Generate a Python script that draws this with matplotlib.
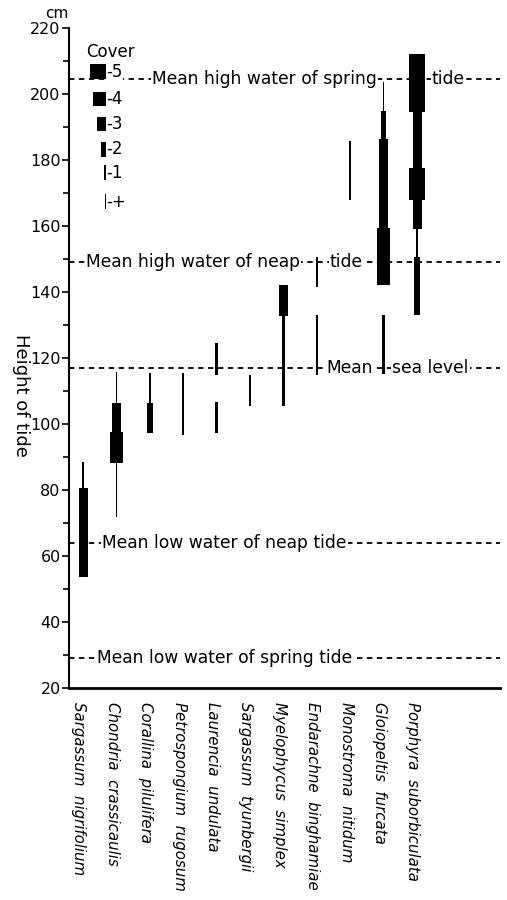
import matplotlib
matplotlib.use("Agg")
import matplotlib.pyplot as plt

# species along the shore, low to high
species = ["Sargassum  nigrifolium", "Chondria  crassicaulis", "Corallina  pilulifera",
           "Petrospongium  rugosum", "Laurencia  undulata", "Sargassum  tyunbergii",
           "Myelophycus  simplex", "Endarachne  binghamiae", "Monostroma  nitidum",
           "Gloiopeltis  furcata", "Porphyra  suborbiculata"]

# vertical segments: species index, top (cm), bottom (cm), cover class
seg_species = [0, 0,
               1, 1, 1, 1,
               2, 2,
               3,
               4, 4,
               5,
               6, 6,
               7, 7,
               8,
               9, 9, 9, 9, 9,
               10, 10, 10, 10, 10, 10]
seg_top = [88.5, 80.6,
           115.8, 106.4, 97.6, 88.2,
           115.5, 106.4,
           115.5,
           124.5, 106.7,
           114.8,
           142.1, 132.7,
           150.5, 133.0,
           185.8,
           203.5, 195.0, 186.5, 159.5, 133.0,
           212.1, 194.5, 177.6, 168.0, 159.0, 150.6]
seg_bottom = [80.6, 53.6,
              106.4, 97.6, 88.2, 71.8,
              106.4, 97.3,
              96.7,
              114.8, 97.3,
              105.5,
              132.7, 105.5,
              141.5, 115.0,
              167.9,
              195.0, 186.5, 159.5, 142.0, 115.2,
              194.5, 177.6, 168.0, 159.0, 150.6, 133.0]
seg_cover = ["+", 3,
             "+", 3, 4, "+",
             1, 2,
             1,
             1, 1,
             1,
             3, 1,
             1, 1,
             1,
             "+", 2, 3, 4, 1,
             5, 3, 5, 3, "+", 2]

# tide levels (cm)
tide_levels = [204.5, 149.0, 117.0, 64.0, 29.0]

cover_classes = [5, 4, 3, 2, 1, "+"]
cover_px = {5: 16.5, 4: 13, 3: 9, 2: 5.5, 1: 2.5, "+": 1.3}

px_per_unit = 33.4
def width(c):
    return cover_px[c] / px_per_unit

fig = plt.figure(figsize=(5.07, 9.0), dpi=100)
ax = fig.add_axes([69/507, 1-688/900, (500-69)/507, (688-28)/900])

xpos = list(range(1, len(species)+1))

# bars
for i, t, b, c in zip(seg_species, seg_top, seg_bottom, seg_cover):
    ax.bar(xpos[i], t-b, bottom=b, width=width(c), color="black", zorder=3, linewidth=0)

# dashed tide lines
for lv in tide_levels:
    ax.axhline(lv, color="black", lw=1.3, ls=(0, (3, 2.5)), zorder=1)

tkw = dict(fontsize=12.3, va="center", ha="left", zorder=2,
           bbox=dict(facecolor="white", edgecolor="none", pad=1.0))
def dx(px):
    return (px - 49.6) / px_per_unit

ax.text(dx(152), tide_levels[0], "Mean high water of spring", **tkw)
ax.text(dx(432), tide_levels[0], "tide", **tkw)
ax.text(dx(86), tide_levels[1], "Mean high water of neap", **tkw)
ax.text(dx(330), tide_levels[1], "tide", **tkw)
ax.text(dx(326), tide_levels[2], "Mean", **tkw)
ax.text(dx(392), tide_levels[2], "sea level", **tkw)
ax.text(dx(102), tide_levels[3], "Mean low water of neap tide", **tkw)
ax.text(dx(97), tide_levels[4], "Mean low water of spring tide", **tkw)

# cover legend
leg_right = dx(106)
leg_y = [206.7, 198.5, 190.9, 183.3, 176.1, 167.3]
ax.text(dx(86), 212.6, "Cover", fontsize=12, va="center", ha="left", zorder=4,
        bbox=dict(facecolor="white", edgecolor="none", pad=0.5))
for c, y in zip(cover_classes, leg_y):
    w = width(c)
    ax.bar(leg_right - w/2, 4.5, bottom=y-2.25, width=w, color="black", zorder=4, linewidth=0)
    ax.text(leg_right, y, "-" + str(c), fontsize=12, va="center", ha="left", zorder=4,
            bbox=dict(facecolor="white", edgecolor="none", pad=0.3))

ax.set_xlim(dx(69), dx(500))
ax.set_ylim(20, 220)
ax.set_yticks(range(20, 221, 20))
ax.set_yticks(range(30, 220, 20), minor=True)
ax.tick_params(axis="y", which="major", length=5, width=1.2, labelsize=11.5, pad=1)
ax.tick_params(axis="y", which="minor", length=4, width=1.2)
ax.set_xticks([p - 0.12 for p in xpos])
ax.set_xticklabels(species, rotation=-90, fontsize=10.8, style="italic", va="top", ha="center")
ax.tick_params(axis="x", length=0, pad=10)

for s in ["top", "right"]:
    ax.spines[s].set_visible(False)
ax.spines["left"].set_linewidth(1.5)
ax.spines["bottom"].set_linewidth(2)

fig.text(21/507, 1-395/900, "Height of tide", rotation=270, fontsize=13, ha="center", va="center")
fig.text(57/507, 1-14/900, "cm", fontsize=11, ha="center", va="center")

fig.savefig("out.png", dpi=100)
